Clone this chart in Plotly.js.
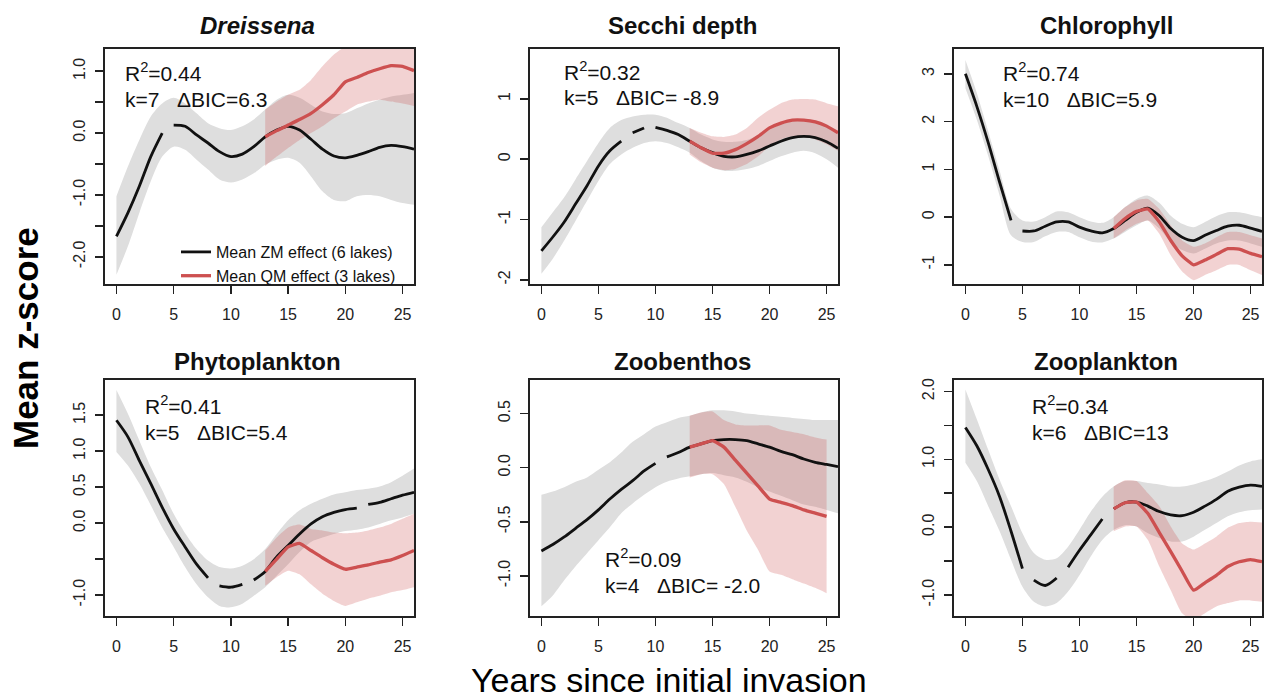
<!DOCTYPE html>
<html>
<head>
<meta charset="utf-8">
<script src="https://cdn.plot.ly/plotly-3.0.1.min.js"></script>
<style>html,body{margin:0;padding:0;background:#fff;}#chart{width:1264px;height:698px;}</style>
</head>
<body>
<div id="chart"></div>
<script>
// ---------- data ----------
const years = [0,1,2,3,4,5,6,7,8,9,10,11,12,13,14,15,16,17,18,19,20,21,22,23,24,25,26];
const qmYears = [13,14,15,16,17,18,19,20,21,22,23,24,25,26];
const qmYearsZoobenthos = [13,14,15,16,17,18,19,20,21,22,23,24,25];
const xTicks = [0,5,10,15,20,25];

const panelTitles = ['<i>Dreissena</i>','Secchi depth','Chlorophyll','Phytoplankton','Zoobenthos','Zooplankton'];
const statR2 = ['0.44','0.32','0.74','0.41','0.09','0.34'];
const statK = ['7','5','10','5','4','6'];
const statDBIC = ['6.3',' -8.9','5.9','5.4',' -2.0','13'];
const legendNames = ['Mean ZM effect (6 lakes)','Mean QM effect (3 lakes)'];

// Dreissena
const dreissenaZM   = [-1.67,-1.29,-0.86,-0.38,0.00,0.13,0.11,-0.03,-0.16,-0.30,-0.38,-0.34,-0.22,-0.06,0.05,0.11,0.05,-0.10,-0.26,-0.37,-0.40,-0.36,-0.30,-0.23,-0.20,-0.22,-0.26];
const dreissenaZMHi = [-1.02,-0.54,-0.11,0.27,0.48,0.57,0.48,0.32,0.16,0.08,0.05,0.11,0.22,0.38,0.54,0.62,0.57,0.46,0.35,0.31,0.32,0.40,0.48,0.54,0.59,0.62,0.65];
const dreissenaZMLo = [-2.29,-1.83,-1.29,-0.78,-0.38,-0.22,-0.27,-0.43,-0.59,-0.75,-0.80,-0.75,-0.65,-0.51,-0.43,-0.40,-0.48,-0.70,-0.94,-1.08,-1.10,-1.02,-1.00,-1.02,-1.08,-1.13,-1.16];
const dreissenaGaps = [4];
const dreissenaQM   = [-0.06,0.04,0.13,0.22,0.32,0.46,0.62,0.83,0.90,0.98,1.04,1.09,1.08,1.01];
const dreissenaQMHi = [0.38,0.51,0.62,0.70,0.86,1.08,1.27,1.40,1.45,1.50,1.55,1.55,1.50,1.45];
const dreissenaQMLo = [-0.53,-0.38,-0.24,-0.11,0.00,0.11,0.24,0.35,0.46,0.51,0.54,0.51,0.48,0.44];
const dreissenaYTicks  = [-2,-1,0,1];
const dreissenaYLabels = ['-2.0','-1.0','0.0','1.0'];
const dreissenaYMinor  = [-1.5,-0.5,0.5];

// Secchi depth
const secchiZM   = [-1.52,-1.29,-1.04,-0.74,-0.44,-0.11,0.14,0.30,0.44,0.52,0.53,0.48,0.41,0.30,0.19,0.11,0.05,0.04,0.08,0.14,0.22,0.30,0.36,0.38,0.36,0.29,0.18];
const secchiZMHi = [-1.13,-0.88,-0.63,-0.33,-0.03,0.27,0.52,0.65,0.71,0.74,0.74,0.69,0.60,0.52,0.41,0.33,0.29,0.29,0.32,0.40,0.49,0.58,0.65,0.67,0.65,0.58,0.47];
const secchiZMLo = [-1.90,-1.65,-1.35,-1.02,-0.69,-0.36,-0.08,0.08,0.19,0.27,0.30,0.27,0.20,0.11,-0.03,-0.14,-0.19,-0.19,-0.16,-0.11,-0.03,0.05,0.11,0.14,0.10,0.00,-0.14];
const secchiGaps = [7,9];
const secchiQM   = [0.30,0.19,0.10,0.10,0.16,0.26,0.38,0.52,0.60,0.65,0.65,0.62,0.55,0.44];
const secchiQMHi = [0.52,0.44,0.38,0.37,0.41,0.52,0.69,0.82,0.93,0.99,1.00,0.99,0.93,0.88];
const secchiQMLo = [0.08,-0.05,-0.14,-0.18,-0.16,-0.08,0.05,0.22,0.33,0.38,0.38,0.33,0.25,0.14];
const secchiYTicks  = [-2,-1,0,1];
const secchiYLabels = ['-2','-1','0','1'];
const secchiYMinor  = [];

// Chlorophyll
const chlorophyllZM   = [3.00,2.32,1.56,0.73,-0.07,-0.29,-0.29,-0.19,-0.10,-0.10,-0.21,-0.29,-0.33,-0.24,-0.07,0.10,0.19,0.03,-0.24,-0.42,-0.49,-0.38,-0.28,-0.19,-0.17,-0.23,-0.30];
const chlorophyllZMHi = [3.29,2.60,1.80,0.97,0.17,-0.07,-0.09,0.00,0.12,0.10,0.00,-0.09,-0.12,0.00,0.21,0.38,0.45,0.30,0.03,-0.14,-0.21,-0.10,0.02,0.10,0.10,0.05,0.00];
const chlorophyllZMLo = [2.70,2.04,1.28,0.45,-0.38,-0.52,-0.52,-0.40,-0.31,-0.31,-0.42,-0.51,-0.53,-0.45,-0.31,-0.17,-0.07,-0.24,-0.52,-0.69,-0.76,-0.66,-0.55,-0.49,-0.49,-0.55,-0.62];
const chlorophyllGaps = [4];
const chlorophyllQM   = [-0.24,-0.03,0.12,0.17,-0.10,-0.49,-0.81,-1.00,-0.90,-0.78,-0.66,-0.67,-0.76,-0.83];
const chlorophyllQMHi = [0.00,0.21,0.35,0.38,0.17,-0.17,-0.49,-0.62,-0.55,-0.42,-0.31,-0.31,-0.38,-0.45];
const chlorophyllQMLo = [-0.45,-0.28,-0.14,-0.07,-0.35,-0.80,-1.14,-1.32,-1.21,-1.11,-1.00,-1.00,-1.11,-1.21];
const chlorophyllYTicks  = [-1,0,1,2,3];
const chlorophyllYLabels = ['-1','0','1','2','3'];
const chlorophyllYMinor  = [];

// Phytoplankton
const phytoZM   = [1.43,1.20,0.87,0.55,0.22,-0.08,-0.33,-0.57,-0.76,-0.87,-0.89,-0.85,-0.79,-0.67,-0.47,-0.31,-0.15,-0.01,0.09,0.15,0.19,0.21,0.26,0.29,0.34,0.39,0.43];
const phytoZMHi = [1.85,1.52,1.15,0.78,0.46,0.13,-0.14,-0.36,-0.52,-0.61,-0.63,-0.59,-0.50,-0.36,-0.15,0.04,0.18,0.27,0.34,0.40,0.43,0.46,0.48,0.51,0.57,0.66,0.76];
const phytoZMLo = [0.99,0.80,0.55,0.25,-0.06,-0.33,-0.61,-0.85,-1.03,-1.15,-1.17,-1.12,-1.01,-0.89,-0.73,-0.57,-0.40,-0.26,-0.20,-0.15,-0.11,-0.09,-0.06,-0.01,0.04,0.08,0.13];
const phytoGaps = [8,11,21];
const phytoQM   = [-0.67,-0.50,-0.33,-0.28,-0.38,-0.48,-0.57,-0.64,-0.61,-0.58,-0.54,-0.51,-0.45,-0.38];
const phytoQMHi = [-0.38,-0.20,-0.06,-0.02,-0.08,-0.10,-0.13,-0.14,-0.13,-0.10,-0.06,-0.01,0.06,0.13];
const phytoQMLo = [-0.87,-0.75,-0.66,-0.71,-0.85,-0.98,-1.08,-1.15,-1.10,-1.05,-1.01,-0.96,-0.93,-0.89];
const phytoYTicks  = [-1,0,0.5,1,1.5];
const phytoYLabels = ['-1.0','0.0','0.5','1.0','1.5'];
const phytoYMinor  = [-0.5];

// Zoobenthos
const zoobenthosZM   = [-0.77,-0.71,-0.64,-0.56,-0.48,-0.39,-0.29,-0.20,-0.12,-0.03,0.04,0.10,0.14,0.19,0.22,0.25,0.26,0.26,0.25,0.22,0.19,0.15,0.12,0.08,0.05,0.03,0.01];
const zoobenthosZMHi = [-0.25,-0.22,-0.18,-0.13,-0.09,-0.02,0.05,0.14,0.24,0.31,0.38,0.42,0.46,0.48,0.51,0.53,0.53,0.52,0.50,0.49,0.48,0.47,0.46,0.45,0.44,0.44,0.44];
const zoobenthosZMLo = [-1.28,-1.18,-1.04,-0.91,-0.79,-0.67,-0.55,-0.42,-0.33,-0.25,-0.18,-0.13,-0.10,-0.08,-0.06,-0.05,-0.07,-0.09,-0.13,-0.18,-0.22,-0.26,-0.30,-0.34,-0.36,-0.39,-0.42];
const zoobenthosGaps = [10];
const zoobenthosQM   = [0.19,0.22,0.25,0.19,0.07,-0.05,-0.17,-0.29,-0.32,-0.35,-0.39,-0.42,-0.45];
const zoobenthosQMHi = [0.48,0.51,0.52,0.44,0.40,0.39,0.39,0.39,0.35,0.33,0.31,0.28,0.26];
const zoobenthosQMLo = [-0.09,-0.06,-0.06,-0.15,-0.36,-0.58,-0.76,-0.96,-0.99,-1.03,-1.07,-1.11,-1.16];
const zoobenthosYTicks  = [-1,-0.5,0,0.5];
const zoobenthosYLabels = ['-1.0','-0.5','0.0','0.5'];
const zoobenthosYMinor  = [];

// Zooplankton
const zooplanktonZM   = [1.47,1.20,0.85,0.45,-0.06,-0.61,-0.78,-0.86,-0.75,-0.59,-0.34,-0.11,0.12,0.27,0.36,0.37,0.31,0.23,0.18,0.17,0.22,0.31,0.41,0.53,0.59,0.62,0.60];
const zooplanktonZMHi = [2.03,1.59,1.14,0.70,0.31,-0.09,-0.38,-0.48,-0.46,-0.29,-0.04,0.23,0.45,0.60,0.68,0.68,0.65,0.63,0.60,0.60,0.63,0.68,0.74,0.82,0.91,0.97,1.00];
const zooplanktonZMLo = [0.95,0.68,0.31,-0.06,-0.48,-0.88,-1.10,-1.17,-1.12,-0.95,-0.71,-0.43,-0.19,-0.04,0.03,0.01,-0.09,-0.16,-0.21,-0.21,-0.14,-0.04,0.06,0.16,0.22,0.25,0.26];
const zooplanktonGaps = [5,8,12];
const zooplanktonQM   = [0.27,0.36,0.37,0.20,-0.08,-0.36,-0.65,-0.93,-0.82,-0.71,-0.58,-0.51,-0.48,-0.51];
const zooplanktonQMHi = [0.60,0.69,0.68,0.50,0.31,0.01,-0.24,-0.33,-0.24,-0.14,-0.01,0.06,0.08,0.07];
const zooplanktonQMLo = [-0.06,0.01,0.01,-0.19,-0.58,-0.93,-1.27,-1.37,-1.27,-1.17,-1.12,-1.08,-1.08,-1.10];
const zooplanktonYTicks  = [-1,0,1,2];
const zooplanktonYLabels = ['-1.0','0.0','1.0','2.0'];
const zooplanktonYMinor  = [-0.5,0.5,1.5];

// ---------- layout helpers (pixels of the 1264x698 page) ----------
const W = 1264, H = 698;
const colPx = [[105,414],[530,838],[954,1262]];
const rowPx = [[49,284],[380,616]];
const panels = [
  {zm:dreissenaZM, hi:dreissenaZMHi, lo:dreissenaZMLo, gaps:dreissenaGaps, qx:qmYears, qm:dreissenaQM, qhi:dreissenaQMHi, qlo:dreissenaQMLo, yr:[-2.44,1.36], yt:dreissenaYTicks, yl:dreissenaYLabels, ym:dreissenaYMinor, col:0,row:0, stat:[123,72]},
  {zm:secchiZM, hi:secchiZMHi, lo:secchiZMLo, gaps:secchiGaps, qx:qmYears, qm:secchiQM, qhi:secchiQMHi, qlo:secchiQMLo, yr:[-2.07,1.83], yt:secchiYTicks, yl:secchiYLabels, ym:secchiYMinor, col:1,row:0, stat:[562,71]},
  {zm:chlorophyllZM, hi:chlorophyllZMHi, lo:chlorophyllZMLo, gaps:chlorophyllGaps, qx:qmYears, qm:chlorophyllQM, qhi:chlorophyllQMHi, qlo:chlorophyllQMLo, yr:[-1.40,3.52], yt:chlorophyllYTicks, yl:chlorophyllYLabels, ym:chlorophyllYMinor, col:2,row:0, stat:[1001,72]},
  {zm:phytoZM, hi:phytoZMHi, lo:phytoZMLo, gaps:phytoGaps, qx:qmYears, qm:phytoQM, qhi:phytoQMHi, qlo:phytoQMLo, yr:[-1.29,1.99], yt:phytoYTicks, yl:phytoYLabels, ym:phytoYMinor, col:0,row:1, stat:[143,405]},
  {zm:zoobenthosZM, hi:zoobenthosZMHi, lo:zoobenthosZMLo, gaps:zoobenthosGaps, qx:qmYearsZoobenthos, qm:zoobenthosQM, qhi:zoobenthosQMHi, qlo:zoobenthosQMLo, yr:[-1.37,0.81], yt:zoobenthosYTicks, yl:zoobenthosYLabels, ym:zoobenthosYMinor, col:1,row:1, stat:[603,558]},
  {zm:zooplanktonZM, hi:zooplanktonZMHi, lo:zooplanktonZMLo, gaps:zooplanktonGaps, qx:qmYears, qm:zooplanktonQM, qhi:zooplanktonQMHi, qlo:zooplanktonQMLo, yr:[-1.31,2.17], yt:zooplanktonYTicks, yl:zooplanktonYLabels, ym:zooplanktonYMinor, col:2,row:1, stat:[1030,405]}
];

function withGaps(xs, ys, gaps) {
  const X = [], Y = [];
  xs.forEach((x, i) => {
    X.push(x); Y.push(ys[i]);
    if (gaps.includes(x)) { X.push(x + 0.5); Y.push(null); }
  });
  return [X, Y];
}

const FONT = 'Liberation Sans, Arial, Helvetica, sans-serif';
const GRAY = '#dedede';
const PINK = 'rgba(205,75,75,0.25)';
const RED = '#cd5050';
const BLACK = '#111111';
const NB = '\u00a0';
const TICKFONT = {size: 16, color: '#222', family: FONT};

const traces = [];
const annotations = [];
const layout = {
  width: W, height: H,
  margin: {l:0, r:0, t:0, b:0},
  paper_bgcolor: '#fff', plot_bgcolor: '#fff',
  font: {family: FONT, color: '#111', size: 16},
  showlegend: true,
  legend: {x: 176/W, y: 1 - 235/H, xanchor: 'left', yanchor: 'top', bgcolor: 'rgba(0,0,0,0)',
           traceorder: 'normal',
           font: {size: 16, family: FONT, color: '#111'}, tracegroupgap: 0, itemwidth: 30},
  annotations: annotations
};

panels.forEach((p, i) => {
  const n = i + 1;
  const xa = 'x' + (n === 1 ? '' : n), ya = 'y' + (n === 1 ? '' : n);
  const [c0, c1] = colPx[p.col], [r0, r1] = rowPx[p.row];
  layout['xaxis' + (n === 1 ? '' : n)] = {
    domain: [c0 / W, c1 / W], range: [-1, 26], anchor: ya,
    showline: true, mirror: true, linecolor: '#222', linewidth: 2,
    ticks: 'outside', ticklen: 8, tickwidth: 1.6, tickcolor: '#222',
    tickmode: 'array', tickvals: xTicks, ticktext: xTicks.map(String), ticklabelstandoff: 7,
    tickfont: TICKFONT,
    showgrid: false, zeroline: false, fixedrange: true
  };
  const yaxis = {
    domain: [1 - r1 / H, 1 - r0 / H], range: p.yr, anchor: xa,
    showline: true, mirror: true, linecolor: '#222', linewidth: 2,
    ticks: 'outside', ticklen: 8, tickwidth: 1.6, tickcolor: '#222',
    tickmode: 'array', tickvals: p.yt, ticktext: p.yl, tickangle: -90, ticklabelstandoff: 4,
    tickfont: TICKFONT,
    showgrid: false, zeroline: false, fixedrange: true
  };
  if (p.ym.length) {
    yaxis.minor = {tickmode: 'array', tickvals: p.ym, ticks: 'outside', ticklen: 8, tickwidth: 1.6, tickcolor: '#222', showgrid: false};
  }
  layout['yaxis' + (n === 1 ? '' : n)] = yaxis;
  // gray band (ZM CI)
  traces.push({x: years, y: p.lo, xaxis: xa, yaxis: ya, type: 'scatter', mode: 'lines',
    line: {width: 0, shape: 'spline', smoothing: 0.8}, showlegend: false, hoverinfo: 'skip'});
  traces.push({x: years, y: p.hi, xaxis: xa, yaxis: ya, type: 'scatter', mode: 'lines', fill: 'tonexty',
    fillcolor: GRAY, line: {width: 0, shape: 'spline', smoothing: 0.8}, showlegend: false, hoverinfo: 'skip'});
  // pink band (QM CI)
  traces.push({x: p.qx, y: p.qlo, xaxis: xa, yaxis: ya, type: 'scatter', mode: 'lines',
    line: {width: 0, shape: 'spline', smoothing: 0.5}, showlegend: false, hoverinfo: 'skip'});
  traces.push({x: p.qx, y: p.qhi, xaxis: xa, yaxis: ya, type: 'scatter', mode: 'lines', fill: 'tonexty',
    fillcolor: PINK, line: {width: 0, shape: 'spline', smoothing: 0.5}, showlegend: false, hoverinfo: 'skip'});
  // black line (ZM mean)
  const [gx, gy] = withGaps(years, p.zm, p.gaps);
  traces.push({x: gx, y: gy, xaxis: xa, yaxis: ya, type: 'scatter', mode: 'lines', connectgaps: false,
    name: legendNames[0],
    line: {color: BLACK, width: 2.8, shape: 'spline', smoothing: 0.8}, showlegend: n === 1});
  // red line (QM mean)
  traces.push({x: p.qx, y: p.qm, xaxis: xa, yaxis: ya, type: 'scatter', mode: 'lines',
    name: legendNames[1],
    line: {color: RED, width: 3.3, shape: 'spline', smoothing: 0.4}, showlegend: n === 1});

  // panel title
  annotations.push({xref: 'paper', yref: 'paper', x: ((c0 + c1) / 2 - 2) / W, y: 1 - 25 / H - (p.row ? 336 / H : 0),
    text: '<b>' + panelTitles[i] + '</b>', showarrow: false, xanchor: 'center', yanchor: 'middle',
    font: {size: 24, family: FONT, color: '#111'}});
  // statistics
  annotations.push({xref: 'paper', yref: 'paper', x: p.stat[0] / W, y: 1 - p.stat[1] / H,
    text: 'R<sup>2</sup>=' + statR2[i], showarrow: false, xanchor: 'left', yanchor: 'middle',
    font: {size: 21, family: FONT, color: '#111'}});
  annotations.push({xref: 'paper', yref: 'paper', x: p.stat[0] / W, y: 1 - (p.stat[1] + 27) / H,
    text: 'k=' + statK[i] + NB + NB + NB + '\u0394BIC=' + statDBIC[i].replace(' ', NB), showarrow: false, xanchor: 'left', yanchor: 'middle',
    font: {size: 21, family: FONT, color: '#111'}});
});

// shared axis titles
annotations.push({xref: 'paper', yref: 'paper', x: 26 / W, y: 1 - 338 / H, text: '<b>Mean z-score</b>',
  textangle: -90, showarrow: false, xanchor: 'center', yanchor: 'middle', font: {size: 35, family: FONT, color: '#000'}});
annotations.push({xref: 'paper', yref: 'paper', x: 669 / W, y: 1 - 680 / H, text: 'Years since initial invasion',
  showarrow: false, xanchor: 'center', yanchor: 'middle', font: {size: 34, family: FONT, color: '#000'}});

Plotly.newPlot('chart', traces, layout, {staticPlot: true, displayModeBar: false});
</script>
</body>
</html>
